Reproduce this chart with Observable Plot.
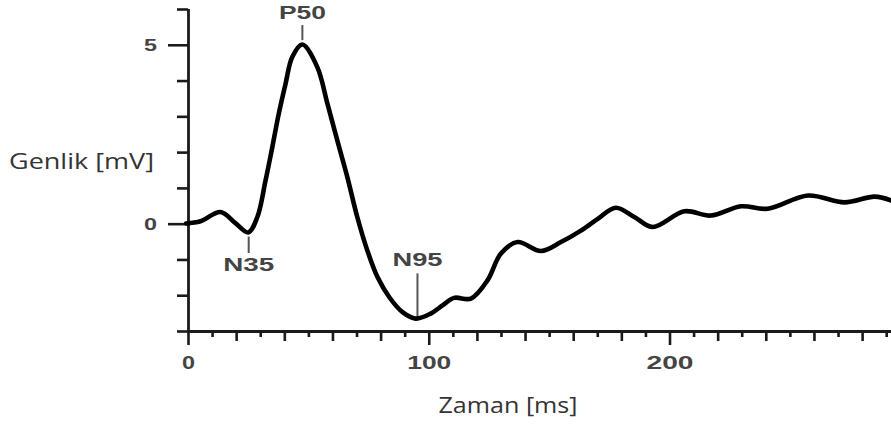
<!DOCTYPE html>
<html><head><meta charset="utf-8">
<script src="https://cdn.jsdelivr.net/npm/d3@7"></script>
<script src="https://cdn.jsdelivr.net/npm/@observablehq/plot@0.6"></script>
<style>body{margin:0;background:#fff}</style>
</head><body><div id="chart"></div>
<script>
// waveform (time in ms, amplitude in mV)
const timeMs    = [-1, 5, 13.3, 19.5, 24.8, 28.6, 32.0, 34.8, 37.5, 40.3, 43.1, 47.3, 53.5, 57.7, 61.8, 66.0, 70.1, 74.3, 78.5, 83.5, 88.9, 94.4, 100.6, 105.5, 110.3, 117.3, 124.2, 129.7, 136.7, 146.4, 154.7, 163, 170, 177.5, 185.2, 192.8, 206, 217, 229.5, 240.6, 257.3, 272.5, 285, 292];
const amplitude = [0.02, 0.08, 0.34, 0.03, -0.23, 0.2, 1.22, 2.15, 3.09, 3.92, 4.67, 5.02, 4.39, 3.37, 2.34, 1.31, 0.2, -0.74, -1.48, -2.05, -2.46, -2.64, -2.5, -2.27, -2.06, -2.08, -1.57, -0.83, -0.5, -0.75, -0.5, -0.18, 0.15, 0.46, 0.2, -0.08, 0.36, 0.24, 0.5, 0.43, 0.8, 0.61, 0.77, 0.66];

// axis ticks
const xTicksShort  = [10, 30, 50, 70, 90, 110, 130, 150, 170, 190, 210, 230, 250, 270, 290];
const xTicksMedium = [20, 40, 60, 80, 120, 140, 160, 180, 220, 240, 260, 280];
const xTicksLong   = [0, 100, 200];
const xTickLabels  = ["0", "100", "200"];
const yTicksMinor  = [6, 4, 3, 2, 1, -1, -2, -3];
const yTicksMajor  = [5, 0];
const yTickLabels  = ["5", "0"];

// peak annotations
const annotNames     = ["N35", "P50", "N95"];
const annotX         = [25, 47.3, 95.1];
const annotLineFrom  = [-0.36, 5.13, -2.64];
const annotLineTo    = [-0.82, 5.55, -1.39];
const annotTextY     = [-1.15, 5.9, -1.01];

const xTitle = "Zaman [ms]";
const yTitle = "Genlik [mV]";

const wave = timeMs.map((t, i) => ({t, a: amplitude[i]}));
const annots = annotNames.map((n, i) => ({n, x: annotX[i], y1: annotLineFrom[i], y2: annotLineTo[i], ty: annotTextY[i]}));

const numFont = "Liberation Sans, Arial, sans-serif";
const tickColor = "#1a1a1a";

const svg = Plot.plot({
  width: 891, height: 428,
  marginLeft: 188, marginRight: 0, marginTop: 9, marginBottom: 97,
  x: {domain: [0, 292]},
  y: {domain: [-3, 6]},
  style: {background: "#fff", fontFamily: numFont},
  marks: [
    Plot.axisX(xTicksShort,  {tickSize: 6,  tickFormat: () => "", label: null, strokeWidth: 2.6, stroke: tickColor}),
    Plot.axisX(xTicksMedium, {tickSize: 10, tickFormat: () => "", label: null, strokeWidth: 2.6, stroke: tickColor}),
    Plot.axisX(xTicksLong,   {tickSize: 14, tickFormat: () => "", label: null, strokeWidth: 2.6, stroke: tickColor}),
    Plot.axisY(yTicksMinor,  {tickSize: 11, tickFormat: () => "", label: null, strokeWidth: 2.6, stroke: tickColor}),
    Plot.axisY(yTicksMajor,  {tickSize: 20, tickFormat: () => "", label: null, strokeWidth: 2.6, stroke: tickColor}),
    Plot.ruleY([-3], {stroke: tickColor, strokeWidth: 2.8}),
    Plot.ruleX([0], {stroke: tickColor, strokeWidth: 2.8}),
    Plot.text(xTicksLong, {x: d => d, y: -3, dy: 32, text: (d, i) => xTickLabels[i], fontSize: 18, fontWeight: "bold", fill: "#444"}),
    Plot.text(yTicksMajor, {x: 0, y: d => d, dx: -38, text: (d, i) => yTickLabels[i], fontSize: 17, fontWeight: "bold", fill: "#444"}),
    Plot.ruleX(annots, {x: "x", y1: "y1", y2: "y2", stroke: "#555", strokeWidth: 2}),
    Plot.text(annots, {x: "x", y: "ty", text: "n", fontSize: 18, fontWeight: "bold", fill: "#444"}),
    Plot.line(wave, {x: "t", y: "a", curve: "catmull-rom", stroke: "#000", strokeWidth: 4.6, strokeLinejoin: "round", strokeLinecap: "round"}),
    Plot.text([yTitle], {frameAnchor: "left", dx: -107, dy: -8, textAnchor: "middle", fontSize: 21, fontFamily: "Open Sans", fill: "#333"}),
    Plot.text([xTitle], {frameAnchor: "bottom", dx: -32, dy: 81, textAnchor: "middle", fontSize: 21, fontFamily: "Open Sans", fill: "#333"})
  ]
});

// horizontal stretch of the lettering, as in the picture
const widths = {"Genlik [mV]": 145, "Zaman [ms]": 139, "N35": 51, "N95": 50, "P50": 47, "100": 44, "200": 47, "0": 13, "5": 13};
d3.select(svg).selectAll("text").each(function() {
  const w = widths[this.textContent];
  if (w) { this.setAttribute("textLength", w); this.setAttribute("lengthAdjust", "spacingAndGlyphs"); }
});

document.getElementById("chart").append(svg);
</script></body></html>
